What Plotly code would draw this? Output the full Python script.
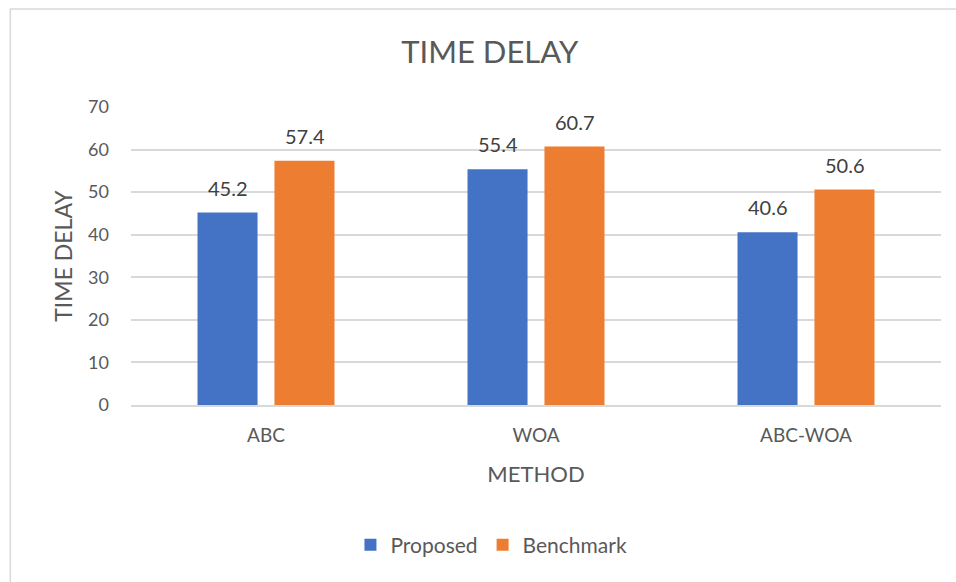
import plotly.graph_objects as go

methods = ["ABC", "WOA", "ABC-WOA"]
proposed = [45.2, 55.4, 40.6]
benchmark = [57.4, 60.7, 50.6]

BLUE = "#4472C4"
ORANGE = "#ED7D31"
TEXT = "#595959"
FONT = "Lato, 'Open Sans', sans-serif"

fig = go.Figure()
fig.add_trace(go.Bar(name="Proposed", x=methods, y=proposed, marker_color=BLUE,
                     marker_line_width=0))
fig.add_trace(go.Bar(name="Benchmark", x=methods, y=benchmark, marker_color=ORANGE,
                     marker_line_width=0))

# value labels above each bar
annotations = []
for vals, shift in ((proposed, -38.5), (benchmark, 38.5)):
    for m, v in zip(methods, vals):
        annotations.append(dict(x=m, y=v, xref="x", yref="y", text=f"{v}",
                                showarrow=False, yanchor="bottom", xshift=shift,
                                yshift=11, font=dict(size=20, color="#404040",
                                                     family=FONT)))

fig.update_layout(
    width=956, height=582,
    margin=dict(l=131, r=15, t=107, b=177),
    paper_bgcolor="white", plot_bgcolor="white",
    barmode="group", bargap=0.43, bargroupgap=0.22,
    font=dict(family=FONT, color=TEXT, size=18),
    title=dict(text="TIME DELAY", x=0.443, xanchor="center", xref="paper",
               y=1 - 52 / 582, yanchor="middle",
               font=dict(size=31, color=TEXT, family=FONT)),
    xaxis=dict(showgrid=False, showline=True, linecolor="#d9d9d9", linewidth=1.5,
               ticks="", ticklabelstandoff=12, tickfont=dict(size=19, color=TEXT),
               title=dict(text="METHOD", font=dict(size=22, color=TEXT), standoff=22)),
    yaxis=dict(range=[0, 70], dtick=10, showgrid=True, gridcolor="#d9d9d9",
               gridwidth=1.5, zeroline=False, showline=False, ticks="",
               ticklabelstandoff=21,
               tickfont=dict(size=18, color=TEXT),
               title=dict(text="TIME DELAY", font=dict(size=23, color=TEXT), standoff=9)),
    legend=dict(orientation="h", x=0.445, xanchor="center", y=-0.47, yanchor="middle",
                font=dict(size=21, color=TEXT), itemwidth=30, traceorder="normal"),
    annotations=annotations,
    shapes=[dict(type="rect", xref="paper", yref="paper", x0=-0.149, x1=1.2,
                 y0=-0.8, y1=1.329, line=dict(color="#d9d9d9", width=1.5),
                 layer="below")],
)

fig.write_html("out.html")
